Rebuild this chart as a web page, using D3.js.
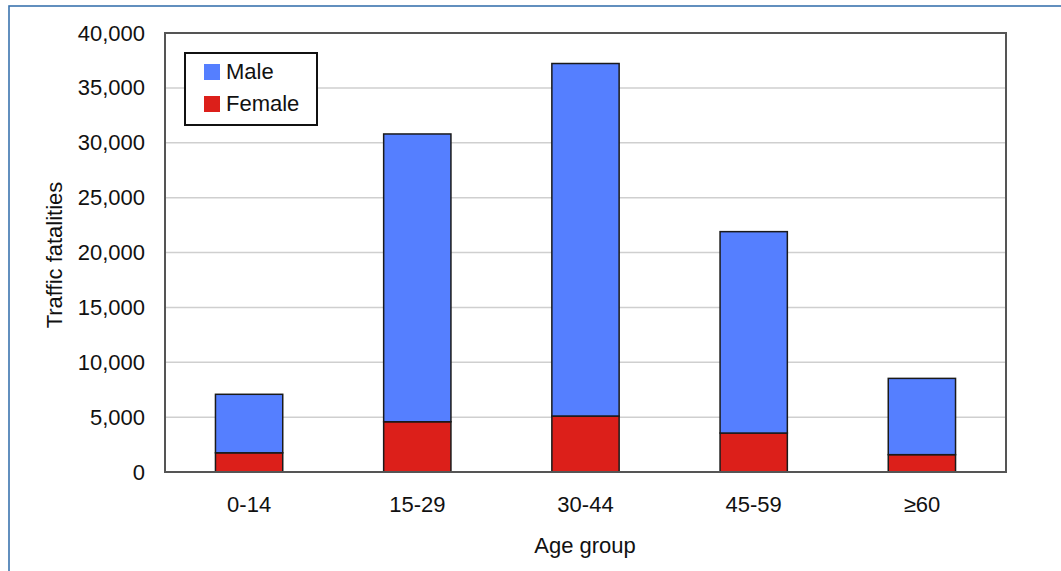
<!DOCTYPE html>
<html><head><meta charset="utf-8">
<script src="https://cdn.jsdelivr.net/npm/d3@7"></script>
<style>html,body{margin:0;padding:0;background:#fff;}svg{display:block;}</style>
</head><body>
<svg id="c" width="1061" height="571"></svg>
<script>
const categories = ["0-14", "15-29", "30-44", "45-59", "≥60"];
const female = [1750, 4580, 5100, 3550, 1580];
const male = [5330, 26220, 32120, 18350, 6950];
const seriesNames = ["Male", "Female"];
const yTicks = [0, 5000, 10000, 15000, 20000, 25000, 30000, 35000, 40000];

const svg = d3.select("#c");
const W = 1061, H = 571;
const m = {left: 165, top: 33, right: 1006, bottom: 472};
const font = "'Liberation Sans', Arial, sans-serif";

// outer frame
svg.append("rect").attr("x", 9).attr("y", 6).attr("width", W + 10).attr("height", H + 10)
  .attr("fill", "none").attr("stroke", "#3b74ae").attr("stroke-width", 1.6);

const x = d3.scaleBand().domain(categories).range([m.left, m.right]).paddingInner(0.6).paddingOuter(0.3);
const y = d3.scaleLinear().domain([0, 40000]).range([m.bottom, m.top]);

// gridlines
svg.append("g").selectAll("line").data(yTicks.filter(d => d > 0 && d < 40000)).join("line")
  .attr("x1", m.left).attr("x2", m.right)
  .attr("y1", d => y(d)).attr("y2", d => y(d))
  .attr("stroke", "#cfcfcf").attr("stroke-width", 1.5);

// stacked bars
const data = categories.map((c, i) => ({cat: c, Female: female[i], Male: male[i]}));
const stack = d3.stack().keys(["Female", "Male"])(data);
const colors = {Male: "#557fff", Female: "#dc1f1a"};
stack.forEach(s => {
  svg.append("g").selectAll("rect").data(s).join("rect")
    .attr("x", d => x(d.data.cat))
    .attr("width", x.bandwidth())
    .attr("y", d => y(d[1]))
    .attr("height", d => y(d[0]) - y(d[1]))
    .attr("fill", colors[s.key])
    .attr("stroke", "#1a1a1a").attr("stroke-width", 1.5);
});

// plot frame
svg.append("rect").attr("x", m.left).attr("y", m.top)
  .attr("width", m.right - m.left).attr("height", m.bottom - m.top)
  .attr("fill", "none").attr("stroke", "#555").attr("stroke-width", 2);

// y axis labels
const yAxis = d3.axisLeft(y).tickValues(yTicks).tickSize(0).tickPadding(20)
  .tickFormat(d3.format(","));
const gy = svg.append("g").attr("transform", `translate(${m.left},0)`).call(yAxis);
gy.select(".domain").remove();
gy.selectAll("text").attr("font-family", font).attr("font-size", 22).attr("fill", "#111");

// x axis labels
const xAxis = d3.axisBottom(x).tickSize(0).tickPadding(24);
const gx = svg.append("g").attr("transform", `translate(0,${m.bottom})`).call(xAxis);
gx.select(".domain").remove();
gx.selectAll("text").attr("font-family", font).attr("font-size", 22).attr("fill", "#111");

// axis titles
svg.append("text").attr("x", 585).attr("y", 553).attr("text-anchor", "middle")
  .attr("font-family", font).attr("font-size", 22).attr("fill", "#111").text("Age group");
svg.append("text").attr("transform", "translate(62,255) rotate(-90)").attr("text-anchor", "middle")
  .attr("font-family", font).attr("font-size", 22).attr("fill", "#111").text("Traffic fatalities");

// legend
const lg = svg.append("g");
lg.append("rect").attr("x", 185).attr("y", 53).attr("width", 132).attr("height", 72)
  .attr("fill", "#fff").attr("stroke", "#111").attr("stroke-width", 2);
seriesNames.forEach((n, i) => {
  lg.append("rect").attr("x", 204).attr("y", 64 + i * 32).attr("width", 16).attr("height", 16)
    .attr("fill", colors[n]);
  lg.append("text").attr("x", 226).attr("y", 79 + i * 32)
    .attr("font-family", font).attr("font-size", 22).attr("fill", "#111").text(n);
});
</script>
</body></html>
